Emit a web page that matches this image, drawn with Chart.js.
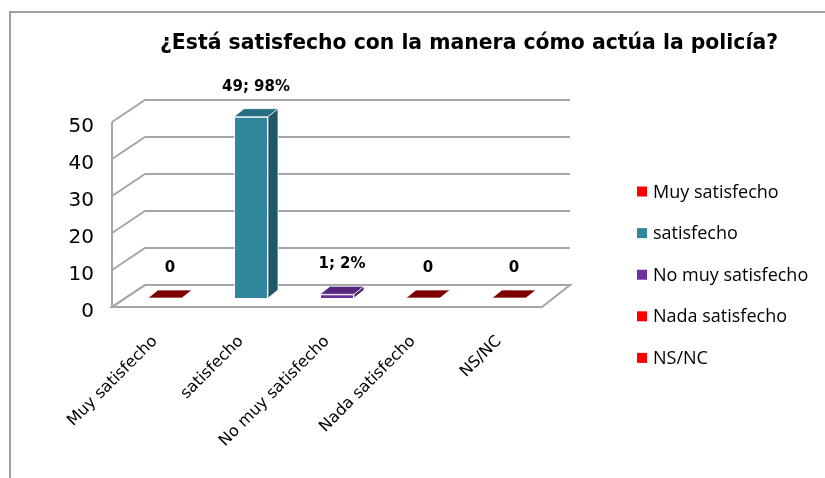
<!DOCTYPE html>
<html>
<head>
<meta charset="utf-8">
<script src="https://cdn.jsdelivr.net/npm/chart.js@4.4.1/dist/chart.umd.min.js"></script>
<style>
  html, body { margin: 0; padding: 0; background: #fff; }
</style>
</head>
<body>
<canvas id="myChart" width="825" height="478"></canvas>
<script>
const categories = ['Muy satisfecho', 'satisfecho', 'No muy satisfecho', 'Nada satisfecho', 'NS/NC']
const counts = [0, 49, 1, 0, 0]
const percents = [0, 98, 2, 0, 0]
const yTicks = [0, 10, 20, 30, 40, 50]
const barColors = ['#990000', '#31859C', '#6A2E9A', '#990000', '#990000']
const legendColors = ['#FF0000', '#31859C', '#7030A0', '#FF0000', '#FF0000']
const titleText = '¿Está satisfecho con la manera cómo actúa la policía?'

// 3d look: bars sit a bit behind the front edge of the floor
const FRONT = { x: 10, y: -9 }
const DEPTH = { x: 10, y: -8 }
const gridColor = '#A6A6A6'

function shade(hex, f) {
  const n = parseInt(hex.slice(1), 16)
  const r = Math.round(((n >> 16) & 255) * f)
  const g = Math.round(((n >> 8) & 255) * f)
  const b = Math.round((n & 255) * f)
  return `rgb(${r},${g},${b})`
}

function labelFor(i) {
  return counts[i] === 0 ? '0' : counts[i] + '; ' + percents[i] + '%'
}

const frame = {
  id: 'frame',
  beforeDraw(chart) {
    const c = chart.ctx
    c.save()
    c.fillStyle = '#fff'
    c.fillRect(0, 0, chart.width, chart.height)
    c.strokeStyle = '#A0A0A0'
    c.lineWidth = 2
    c.strokeRect(10, 12, chart.width + 20, chart.height + 20)
    c.restore()
  }
}

const walls = {
  id: 'walls',
  beforeDatasetsDraw(chart) {
    const c = chart.ctx
    const { left, right, top, bottom } = chart.chartArea
    const y = chart.scales.y
    const bl = 33, br = 28, bd = -22
    c.save()
    c.strokeStyle = gridColor
    c.lineWidth = 2
    // floor
    c.beginPath()
    c.moveTo(left, bottom)
    c.lineTo(right, bottom)
    c.lineTo(right + br, bottom + bd)
    c.lineTo(left + bl, bottom + bd)
    c.closePath()
    c.fillStyle = '#fff'
    c.fill()
    c.stroke()
    // left wall edge
    c.beginPath()
    c.moveTo(left, y.getPixelForValue(yTicks[yTicks.length - 1]))
    c.lineTo(left, bottom)
    c.stroke()
    // grid lines
    yTicks.forEach(v => {
      const py = y.getPixelForValue(v)
      c.beginPath()
      c.moveTo(left, py)
      c.lineTo(left + bl, py + bd)
      c.lineTo(right + br, py + bd)
      c.stroke()
    })
    c.restore()
    // the front faces are drawn by chart.js, shifted back
    c.save()
    c.translate(FRONT.x, FRONT.y)
  },
  afterDatasetsDraw(chart) {
    const c = chart.ctx
    c.restore()
    const meta = chart.getDatasetMeta(0)
    c.save()
    c.lineWidth = 1
    meta.data.forEach((el, i) => {
      const p = el.getProps(['x', 'y', 'base', 'width'], true)
      const x0 = p.x - p.width / 2 + FRONT.x
      const x1 = p.x + p.width / 2 + FRONT.x
      const yt = p.y + FRONT.y
      const yb = p.base + FRONT.y
      const col = barColors[i]
      // side
      if (yb - yt > 0.5) {
        c.beginPath()
        c.moveTo(x1, yt)
        c.lineTo(x1 + DEPTH.x, yt + DEPTH.y)
        c.lineTo(x1 + DEPTH.x, yb + DEPTH.y)
        c.lineTo(x1, yb)
        c.closePath()
        c.fillStyle = shade(col, 0.66)
        c.fill()
        c.strokeStyle = 'rgba(255,255,255,0.7)'
        c.stroke()
      }
      // top
      c.beginPath()
      c.moveTo(x0, yt)
      c.lineTo(x1, yt)
      c.lineTo(x1 + DEPTH.x, yt + DEPTH.y)
      c.lineTo(x0 + DEPTH.x, yt + DEPTH.y)
      c.closePath()
      c.fillStyle = shade(col, 0.82)
      c.fill()
      c.strokeStyle = 'rgba(255,255,255,0.7)'
      c.stroke()
      // value label
      c.fillStyle = '#000'
      c.font = 'bold 15px "DejaVu Sans"'
      c.textAlign = 'center'
      c.textBaseline = 'middle'
      c.fillText(labelFor(i), (x0 + x1) / 2 + DEPTH.x / 2, yt + DEPTH.y - 22)
    })
    c.restore()
  }
}

const sideLegend = {
  id: 'sideLegend',
  afterDraw(chart) {
    const c = chart.ctx
    c.save()
    c.font = '18px "Open Sans"'
    c.textBaseline = 'middle'
    c.textAlign = 'left'
    chart.data.labels.forEach((lab, i) => {
      const cy = 191.5 + i * 41.6
      c.fillStyle = legendColors[i]
      c.fillRect(637, cy - 5, 10, 10)
      c.fillStyle = '#000'
      c.fillText(lab, 653, cy + 1)
    })
    c.restore()
  }
}

const ctx = document.getElementById('myChart')

new Chart(ctx, {
  type: 'bar',
  data: {
    labels: categories,
    datasets: [{
      label: 'Respuestas',
      data: counts,
      backgroundColor: barColors,
      borderColor: 'rgba(255,255,255,0.8)',
      borderWidth: 1,
      categoryPercentage: 1,
      barPercentage: 0.395
    }]
  },
  options: {
    responsive: false,
    animation: false,
    devicePixelRatio: 1,
    layout: { padding: { left: 60, right: -53, top: 0, bottom: 0 } },
    scales: {
      x: {
        grid: { display: false },
        border: { display: false },
        ticks: {
          minRotation: 45,
          maxRotation: 45,
          color: '#000',
          padding: 17,
          font: { family: 'DejaVu Sans', size: 16 }
        },
        afterFit: s => { s.height = 171 }
      },
      y: {
        min: 0,
        max: 50,
        grid: { display: false, drawTicks: false },
        border: { display: false },
        afterBuildTicks: s => { s.ticks = yTicks.map(v => ({ value: v })) },
        ticks: {
          color: '#000',
          padding: 18,
          font: { family: 'DejaVu Sans', size: 20, lineHeight: 0.45 },
          // empty first line nudges the number a little lower, like the original
          callback: v => ['', String(v)]
        },
        afterFit: s => { s.width = 52 }
      },
      y2: {
        position: 'right',
        grid: { display: false, drawTicks: false },
        border: { display: false },
        ticks: { display: false },
        afterFit: s => { s.width = 336 }
      }
    },
    plugins: {
      legend: { display: false },
      tooltip: { enabled: false },
      title: {
        display: true,
        text: titleText,
        color: '#000',
        font: { family: 'DejaVu Sans', size: 20.4, weight: 'bold' },
        padding: { top: 31, bottom: 66.5 }
      }
    }
  },
  plugins: [frame, walls, sideLegend]
})
</script>
</body>
</html>
